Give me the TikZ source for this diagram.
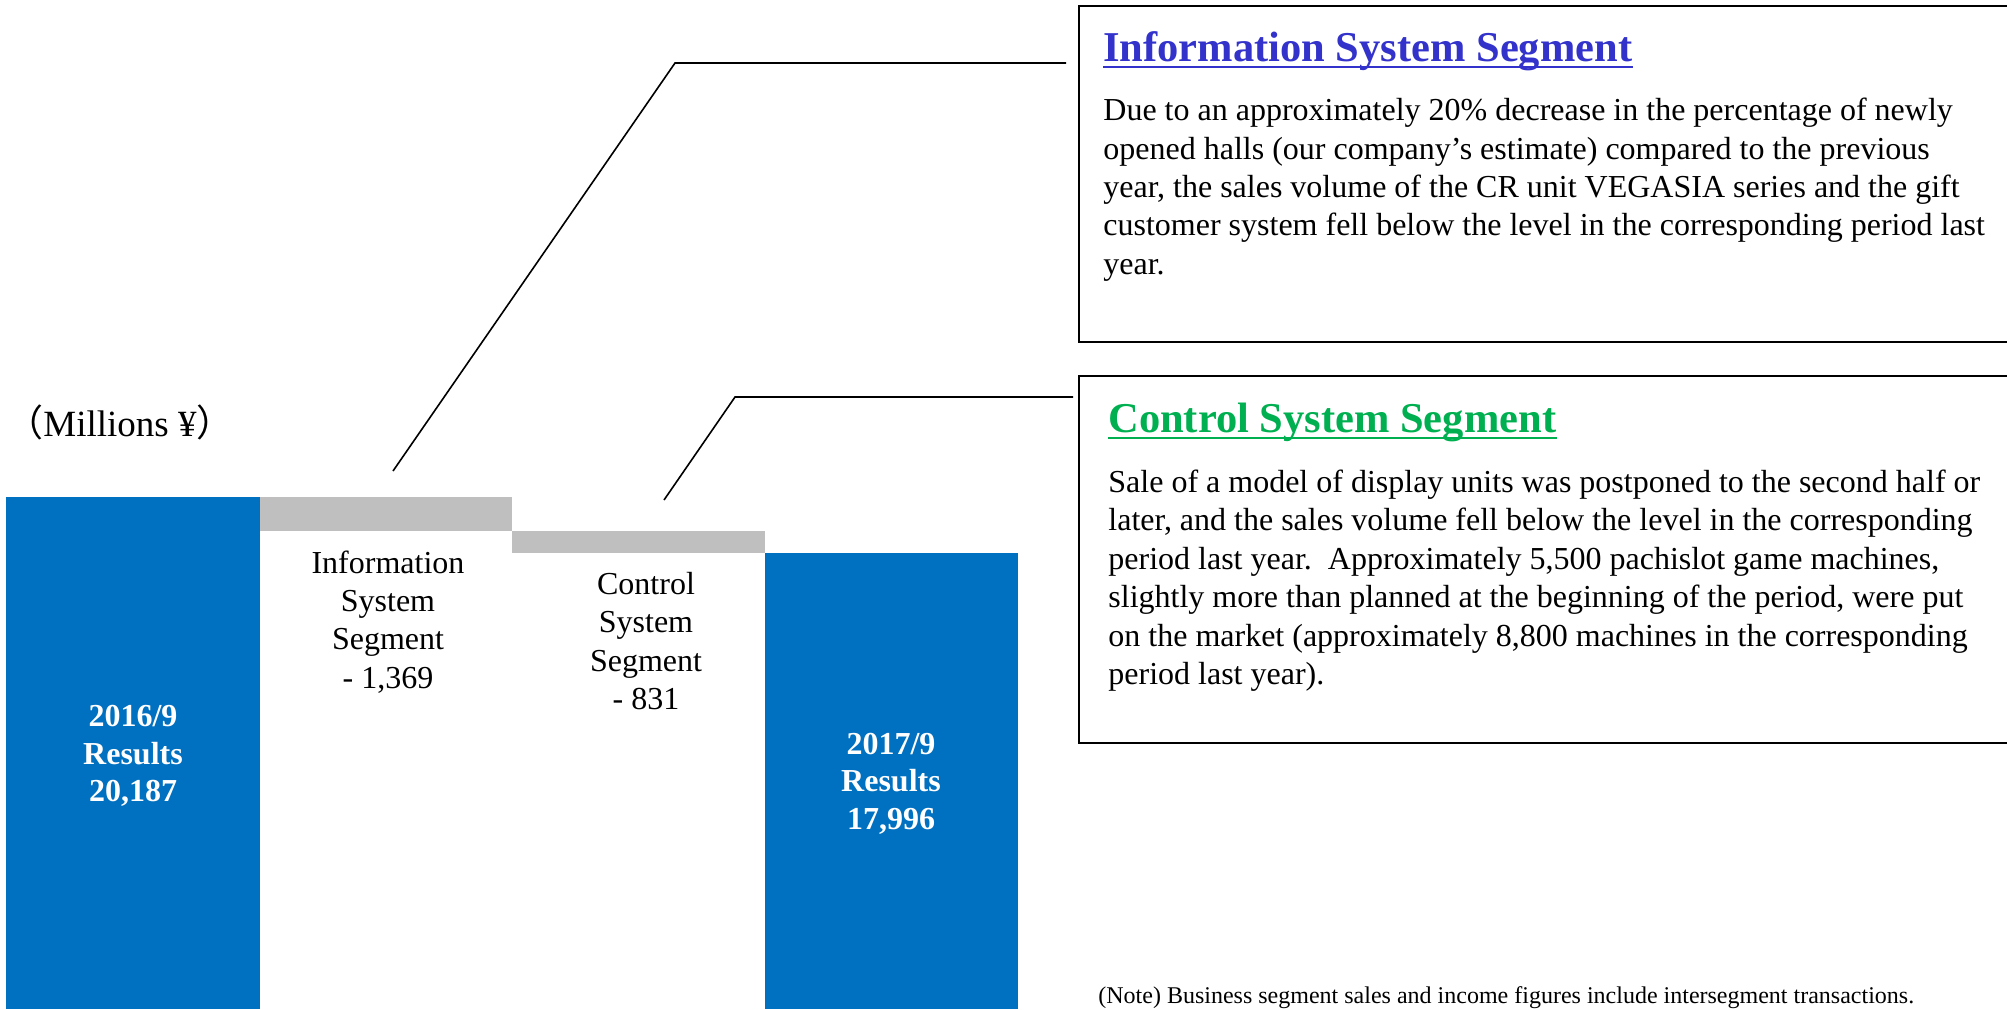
\documentclass[tikz,border=0pt]{standalone}
\usepackage{fontspec}
\setmainfont{Liberation Serif}
\newfontfamily\cjkparen{Noto Sans CJK JP}
\usepackage{tikz}
\usetikzlibrary{positioning}
\definecolor{barblue}{RGB}{0,112,192}
\definecolor{dropgrey}{RGB}{191,191,191}
\definecolor{infoblue}{RGB}{51,51,204}
\definecolor{ctrlgreen}{RGB}{0,176,80}

\begin{document}
\begin{tikzpicture}[x=0.5pt, y=-0.5pt,
  every node/.style={inner sep=0pt, font=\fontsize{16}{19.2}\selectfont},
  resultbar/.style={fill=barblue},
  dropbar/.style={fill=dropgrey},
  barlabel/.style={align=center, anchor=base},
  barvalue/.style={align=center, anchor=base, text=white,
                   font=\bfseries\fontsize{16}{18.7}\selectfont},
  panel/.style={draw=black, line width=1pt, anchor=north west,
                minimum width=471pt},
  paneltitle/.style={anchor=base west,
                     font=\bfseries\fontsize{21.25}{25}\selectfont},
  paneltext/.style={anchor=base west, align=left},
  leader/.style={line width=0.8pt}
]
  \clip (0,0) rectangle (2007,1009);

  % waterfall bars
  \fill[resultbar] (6,497) rectangle (260,1009);
  \fill[dropbar]   (260,497) rectangle (512,531);
  \fill[dropbar]   (512,531) rectangle (765,553);
  \fill[resultbar] (765,553) rectangle (1018,1009);

  \node[anchor=base west, font=\fontsize{18.5}{22}\selectfont] (unit) at (6,436)
    {{\cjkparen （}Millions ¥{\cjkparen ）}};

  % multi-line nodes sit on the baseline of their last line
  \node[barvalue] (prev) at (133,801.7) {2016/9\\Results\\20,187};
  \node[barvalue] (curr) at (891,829) {2017/9\\Results\\17,996};
  \node[barlabel] (infodrop) at (388,688.2) {Information\\System\\Segment\\- 1,369};
  \node[barlabel] (ctrldrop) at (646,709.7) {Control\\System\\Segment\\- 831};

  % explanation panels
  \node[panel, minimum height=167.8pt] (infopanel) at (1078,5) {};
  \node[panel, minimum height=183.5pt] (ctrlpanel) at (1078,375) {};

  \node[paneltitle, text=infoblue] (infotitle) at (1103,61) {Information System Segment};
  \draw[infoblue, line width=1pt] ([yshift=-3pt]infotitle.base west) -- ([yshift=-3pt]infotitle.base east);
  \node[paneltext] (infotext) at (1103,274.3)
    {Due to an approximately 20\% decrease in the percentage of newly\\
     opened halls (our company’s estimate) compared to the previous\\
     year, the sales volume of the CR unit VEGASIA series and the gift\\
     customer system fell below the level in the corresponding period last\\
     year.};

  \node[paneltitle, text=ctrlgreen] (ctrltitle) at (1108,432) {Control System Segment};
  \draw[ctrlgreen, line width=1pt] ([yshift=-3pt]ctrltitle.base west) -- ([yshift=-3pt]ctrltitle.base east);
  \node[paneltext] (ctrltext) at (1108,684.5)
    {Sale of a model of display units was postponed to the second half or\\
     later, and the sales volume fell below the level in the corresponding\\
     period last year.\ \ Approximately 5,500 pachislot game machines,\\
     slightly more than planned at the beginning of the period, were put\\
     on the market (approximately 8,800 machines in the corresponding\\
     period last year).};

  \node[anchor=base west, font=\fontsize{12}{14}\selectfont] (note) at (1098,1003)
    {(Note) Business segment sales and income figures include intersegment transactions.};

  % leader lines
  \coordinate (infotip)  at (393,471);
  \coordinate (infobend) at (675,63);
  \coordinate (infoend)  at (1066,63);
  \coordinate (ctrltip)  at (664,500);
  \coordinate (ctrlbend) at (735,397);
  \coordinate (ctrlend)  at (1073,397);
  \draw[leader] (infotip) -- (infobend) -- (infoend);
  \draw[leader] (ctrltip) -- (ctrlbend) -- (ctrlend);

\end{tikzpicture}
\end{document}
